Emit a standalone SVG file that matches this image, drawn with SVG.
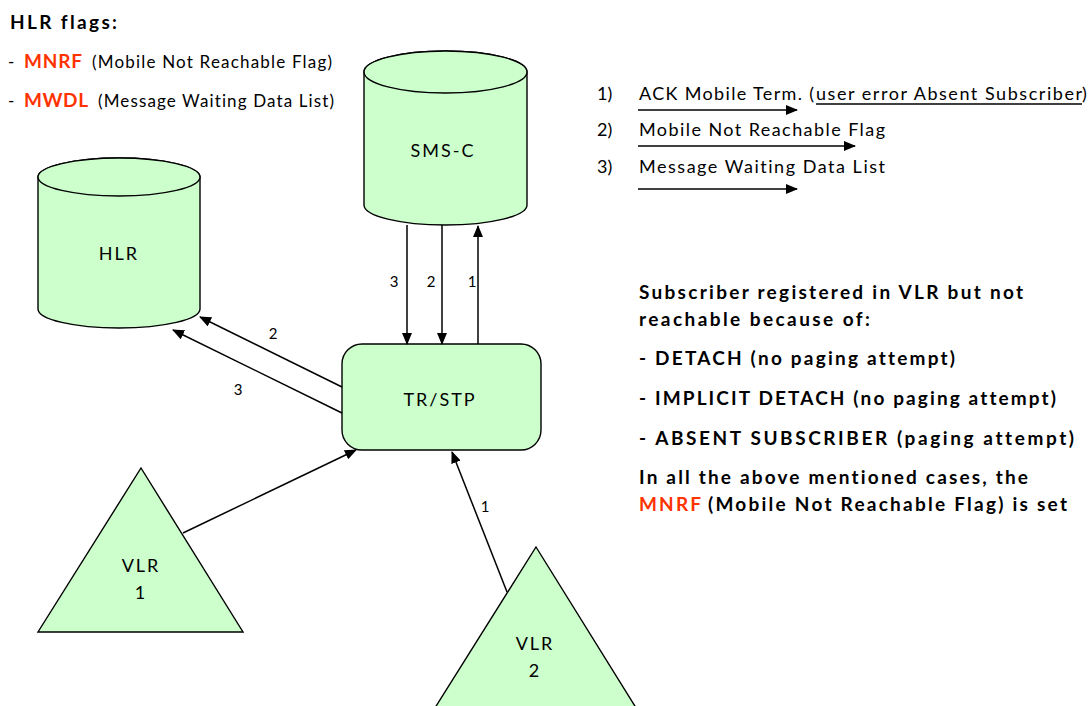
<svg xmlns="http://www.w3.org/2000/svg" width="1090" height="706" viewBox="0 0 1090 706">
  <style>
    text { font-family: Lato, "Liberation Sans", sans-serif; fill: #000; font-variant-ligatures: none; }
    .node { fill: #CCFFCC; stroke: #000; stroke-width: 1.4; }
    .edge { fill: none; stroke: #000; stroke-width: 1.5; }
    .lbl { font-size: 15px; text-anchor: middle; }
    .name { font-size: 18px; text-anchor: middle; letter-spacing: 2px; }
    .bold { font-weight: bold; }
    .red { fill: #FF3300; font-weight: bold; }
  </style>
  <defs>
    <marker id="arrow" markerUnits="userSpaceOnUse" markerWidth="12" markerHeight="10" refX="11" refY="5" orient="auto">
      <path d="M0,0 L12,5 L0,10 Z" fill="#000"/>
    </marker>
  </defs>

  <rect width="1090" height="706" fill="#fff"/>

  <!-- flag legend, top left -->
  <g id="flags">
    <text x="10" y="29" class="bold" font-size="19" textLength="107" lengthAdjust="spacing">HLR flags:</text>
    <text x="8" y="68" font-size="17">-</text>
    <text x="24" y="68" class="red" font-size="19" textLength="58" lengthAdjust="spacing">MNRF</text>
    <text x="92" y="68" font-size="17" textLength="240" lengthAdjust="spacing">(Mobile Not Reachable Flag)</text>
    <text x="8" y="107" font-size="17">-</text>
    <text x="24" y="107" class="red" font-size="19" textLength="64" lengthAdjust="spacing">MWDL</text>
    <text x="98" y="107" font-size="17" textLength="236" lengthAdjust="spacing">(Message Waiting Data List)</text>
  </g>

  <!-- message legend, top right -->
  <g id="messages">
    <text x="597" y="100" font-size="18">1)</text>
    <text x="639" y="100" font-size="18" textLength="175" lengthAdjust="spacing">ACK Mobile Term. (</text>
    <text x="816" y="100" font-size="18" textLength="266" lengthAdjust="spacing">user error Absent Subscriber</text>
    <text x="1082" y="100" font-size="18">)</text>
    <line x1="816" y1="104" x2="1082" y2="104" stroke="#000" stroke-width="1.3"/>
    <line x1="638" y1="110" x2="797" y2="110" class="edge" marker-end="url(#arrow)"/>

    <text x="597" y="136" font-size="18">2)</text>
    <text x="639" y="136" font-size="18" textLength="246" lengthAdjust="spacing">Mobile Not Reachable Flag</text>
    <line x1="638" y1="146" x2="855" y2="146" class="edge" marker-end="url(#arrow)"/>

    <text x="597" y="173" font-size="18">3)</text>
    <text x="639" y="173" font-size="18" textLength="246" lengthAdjust="spacing">Message Waiting Data List</text>
    <line x1="638" y1="189" x2="797" y2="189" class="edge" marker-end="url(#arrow)"/>
  </g>

  <!-- explanation block -->
  <g id="notes" class="bold" font-size="19">
    <text x="639" y="299" textLength="384" lengthAdjust="spacing">Subscriber registered in VLR but not</text>
    <text x="639" y="326" textLength="231" lengthAdjust="spacing">reachable because of:</text>
    <text x="639" y="365" textLength="316" lengthAdjust="spacing">- DETACH (no paging attempt)</text>
    <text x="639" y="405" textLength="417" lengthAdjust="spacing">- IMPLICIT DETACH (no paging attempt)</text>
    <text x="639" y="445" textLength="435" lengthAdjust="spacing">- ABSENT SUBSCRIBER (paging attempt)</text>
    <text x="639" y="484" textLength="389" lengthAdjust="spacing">In all the above mentioned cases, the</text>
    <text x="639" y="511" class="red" textLength="62" lengthAdjust="spacing">MNRF</text>
    <text x="708" y="511" textLength="359" lengthAdjust="spacing">(Mobile Not Reachable Flag) is set</text>
  </g>

  <!-- HLR database -->
  <g id="hlr">
    <path class="node" d="M38,177 V309 A81,19 0 0 0 200,309 V177 A81,19 0 0 0 38,177 Z"/>
    <path class="node" d="M38,177 A81,19 0 0 0 200,177 A81,19 0 0 0 38,177 Z"/>
    <text x="119" y="260" class="name">HLR</text>
  </g>

  <!-- SMS-C database -->
  <g id="smsc">
    <path class="node" d="M364,72 V205 A81.5,20 0 0 0 527,205 V72 A81.5,21 0 0 0 364,72 Z"/>
    <path class="node" d="M364,72 A81.5,21 0 0 0 527,72 A81.5,21 0 0 0 364,72 Z"/>
    <text x="443" y="157" class="name">SMS-C</text>
  </g>

  <!-- TR/STP -->
  <g id="trstp">
    <rect class="node" x="342" y="344" width="199" height="106" rx="20" ry="20"/>
    <text x="440" y="406" class="name">TR/STP</text>
  </g>

  <!-- VLR 1 -->
  <g id="vlr1">
    <polygon class="node" points="141,468 243,632 38,632"/>
    <text x="141" y="572" class="name">VLR</text>
    <text x="141" y="599" class="name" letter-spacing="0">1</text>
  </g>

  <!-- VLR 2 -->
  <g id="vlr2">
    <polygon class="node" points="536,547 638,711 433,711"/>
    <text x="535" y="650" class="name">VLR</text>
    <text x="535" y="677" class="name" letter-spacing="0">2</text>
  </g>

  <!-- connectors -->
  <g id="connectors">
    <line class="edge" x1="407" y1="225" x2="407" y2="344" marker-end="url(#arrow)"/>
    <line class="edge" x1="442" y1="225" x2="442" y2="344" marker-end="url(#arrow)"/>
    <line class="edge" x1="478" y1="344" x2="478" y2="226" marker-end="url(#arrow)"/>
    <text x="394" y="287" class="lbl">3</text>
    <text x="431" y="287" class="lbl">2</text>
    <text x="472" y="287" class="lbl">1</text>

    <line class="edge" x1="342" y1="387" x2="200" y2="317" marker-end="url(#arrow)"/>
    <line class="edge" x1="342" y1="413" x2="173" y2="330" marker-end="url(#arrow)"/>
    <text x="273" y="339" class="lbl">2</text>
    <text x="238" y="395" class="lbl">3</text>

    <line class="edge" x1="183" y1="533" x2="356" y2="450" marker-end="url(#arrow)"/>

    <line class="edge" x1="507" y1="592" x2="452" y2="452" marker-end="url(#arrow)"/>
    <text x="485" y="512" class="lbl">1</text>
  </g>
</svg>
